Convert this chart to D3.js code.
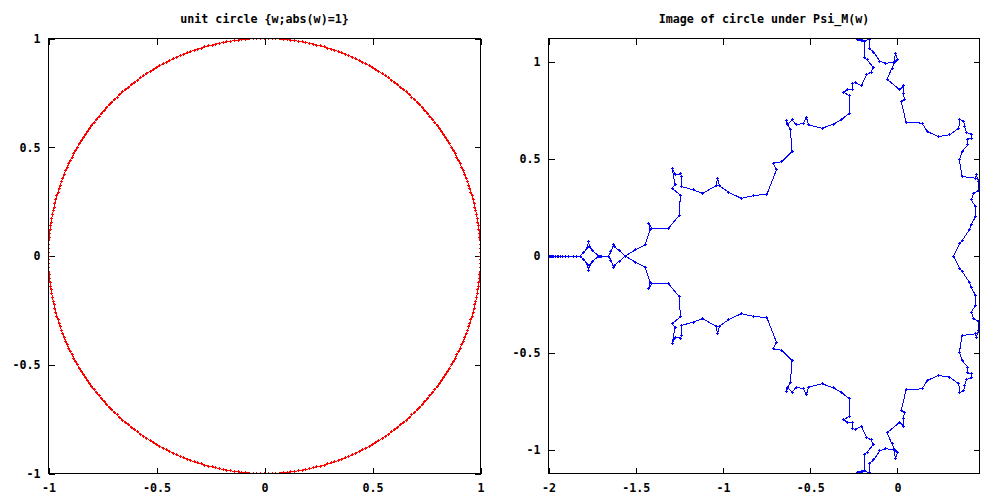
<!DOCTYPE html>
<html><head><meta charset="utf-8">
<script src="https://cdn.jsdelivr.net/npm/d3@7"></script>
<style>
html,body{margin:0;padding:0;background:#fff;}
svg text{font-family:"DejaVu Sans Mono",monospace;font-weight:bold;font-size:11.67px;fill:#000;}
</style></head><body>
<svg id="c" width="1000" height="500"></svg>
<script>
// ---- data ----
const leftTitle = "unit circle {w;abs(w)=1}";
const rightTitle = "Image of circle under Psi_M(w)";
const leftXTicks = [-1, -0.5, 0, 0.5, 1];
const leftYTicks = [-1, -0.5, 0, 0.5, 1];
const rightXTicks = [-2, -1.5, -1, -0.5, 0];
const rightYTicks = [-1, -0.5, 0, 0.5, 1];

// unit circle samples, one per degree
const circleX = [1,
1,.999,.999,.998,.996,.995,.993,.990,.988,.985,.982,.978,.974,.970,.966,.961,.956,.951,.946,.940,.934,.927,.921,.914,.906,.899,.891,.883,.875,.866,.857,.848,.839,.829,.819,.809,.799,.788,.777,.766,.755,.743,.731,.719,.707,.695,.682,.669,.656,.643,.629,.616,.602,.588,.574,.559,.545,.530,.515,.500,.485,.469,.454,.438,.423,.407,.391,.375,.358,.342,.326,.309,.292,.276,.259,.242,.225,.208,.191,.174,.156,.139,.122,.105,.087,.070,.052,.035,.017,
0,
-.017,-.035,-.052,-.070,-.087,-.105,-.122,-.139,-.156,-.174,-.191,-.208,-.225,-.242,-.259,-.276,-.292,-.309,-.326,-.342,-.358,-.375,-.391,-.407,-.423,-.438,-.454,-.469,-.485,-.500,-.515,-.530,-.545,-.559,-.574,-.588,-.602,-.616,-.629,-.643,-.656,-.669,-.682,-.695,-.707,-.719,-.731,-.743,-.755,-.766,-.777,-.788,-.799,-.809,-.819,-.829,-.839,-.848,-.857,-.866,-.875,-.883,-.891,-.899,-.906,-.914,-.921,-.927,-.934,-.940,-.946,-.951,-.956,-.961,-.966,-.970,-.974,-.978,-.982,-.985,-.988,-.990,-.993,-.995,-.996,-.998,-.999,-.999,-1,
-1,
-1,-.999,-.999,-.998,-.996,-.995,-.993,-.990,-.988,-.985,-.982,-.978,-.974,-.970,-.966,-.961,-.956,-.951,-.946,-.940,-.934,-.927,-.921,-.914,-.906,-.899,-.891,-.883,-.875,-.866,-.857,-.848,-.839,-.829,-.819,-.809,-.799,-.788,-.777,-.766,-.755,-.743,-.731,-.719,-.707,-.695,-.682,-.669,-.656,-.643,-.629,-.616,-.602,-.588,-.574,-.559,-.545,-.530,-.515,-.500,-.485,-.469,-.454,-.438,-.423,-.407,-.391,-.375,-.358,-.342,-.326,-.309,-.292,-.276,-.259,-.242,-.225,-.208,-.191,-.174,-.156,-.139,-.122,-.105,-.087,-.070,-.052,-.035,-.017,
0,
.017,.035,.052,.070,.087,.105,.122,.139,.156,.174,.191,.208,.225,.242,.259,.276,.292,.309,.326,.342,.358,.375,.391,.407,.423,.438,.454,.469,.485,.500,.515,.530,.545,.559,.574,.588,.602,.616,.629,.643,.656,.669,.682,.695,.707,.719,.731,.743,.755,.766,.777,.788,.799,.809,.819,.829,.839,.848,.857,.866,.875,.883,.891,.899,.906,.914,.921,.927,.934,.940,.946,.951,.956,.961,.966,.970,.974,.978,.982,.985,.988,.990,.993,.995,.996,.998,.999,.999,1];
const circleY = [0,
.017,.035,.052,.070,.087,.105,.122,.139,.156,.174,.191,.208,.225,.242,.259,.276,.292,.309,.326,.342,.358,.375,.391,.407,.423,.438,.454,.469,.485,.500,.515,.530,.545,.559,.574,.588,.602,.616,.629,.643,.656,.669,.682,.695,.707,.719,.731,.743,.755,.766,.777,.788,.799,.809,.819,.829,.839,.848,.857,.866,.875,.883,.891,.899,.906,.914,.921,.927,.934,.940,.946,.951,.956,.961,.966,.970,.974,.978,.982,.985,.988,.990,.993,.995,.996,.998,.999,.999,1,
1,
1,.999,.999,.998,.996,.995,.993,.990,.988,.985,.982,.978,.974,.970,.966,.961,.956,.951,.946,.940,.934,.927,.921,.914,.906,.899,.891,.883,.875,.866,.857,.848,.839,.829,.819,.809,.799,.788,.777,.766,.755,.743,.731,.719,.707,.695,.682,.669,.656,.643,.629,.616,.602,.588,.574,.559,.545,.530,.515,.500,.485,.469,.454,.438,.423,.407,.391,.375,.358,.342,.326,.309,.292,.276,.259,.242,.225,.208,.191,.174,.156,.139,.122,.105,.087,.070,.052,.035,.017,
0,
-.017,-.035,-.052,-.070,-.087,-.105,-.122,-.139,-.156,-.174,-.191,-.208,-.225,-.242,-.259,-.276,-.292,-.309,-.326,-.342,-.358,-.375,-.391,-.407,-.423,-.438,-.454,-.469,-.485,-.500,-.515,-.530,-.545,-.559,-.574,-.588,-.602,-.616,-.629,-.643,-.656,-.669,-.682,-.695,-.707,-.719,-.731,-.743,-.755,-.766,-.777,-.788,-.799,-.809,-.819,-.829,-.839,-.848,-.857,-.866,-.875,-.883,-.891,-.899,-.906,-.914,-.921,-.927,-.934,-.940,-.946,-.951,-.956,-.961,-.966,-.970,-.974,-.978,-.982,-.985,-.988,-.990,-.993,-.995,-.996,-.998,-.999,-.999,-1,
-1,
-1,-.999,-.999,-.998,-.996,-.995,-.993,-.990,-.988,-.985,-.982,-.978,-.974,-.970,-.966,-.961,-.956,-.951,-.946,-.940,-.934,-.927,-.921,-.914,-.906,-.899,-.891,-.883,-.875,-.866,-.857,-.848,-.839,-.829,-.819,-.809,-.799,-.788,-.777,-.766,-.755,-.743,-.731,-.719,-.707,-.695,-.682,-.669,-.656,-.643,-.629,-.616,-.602,-.588,-.574,-.559,-.545,-.530,-.515,-.500,-.485,-.469,-.454,-.438,-.423,-.407,-.391,-.375,-.358,-.342,-.326,-.309,-.292,-.276,-.259,-.242,-.225,-.208,-.191,-.174,-.156,-.139,-.122,-.105,-.087,-.070,-.052,-.035,-.017];

// image curve, upper half, from w=1 to the tip
const psiUpper = [[0.322,0],[0.357,0.065],[0.370,0.079],[0.414,0.138],[0.422,0.160],[0.447,0.203],[0.448,0.254],[0.422,0.289],[0.437,0.323],[0.466,0.337],[0.466,0.383],[0.452,0.418],[0.447,0.401],[0.370,0.409],[0.355,0.495],[0.370,0.538],[0.403,0.572],[0.403,0.602],[0.422,0.607],[0.422,0.627],[0.395,0.636],[0.384,0.666],[0.380,0.692],[0.357,0.705],[0.351,0.658],[0.299,0.624],[0.236,0.615],[0.170,0.641],[0.141,0.684],[0.049,0.689],[0.022,0.795],[0.041,0.804],[0.032,0.839],[0.036,0.876],[0.013,0.856],[-0.060,0.911],[-0.031,0.968],[-0.012,1.002],[0.001,1.010],[-0.012,1.041],[-0.022,0.996],[-0.069,0.993],[-0.102,1.004],[-0.136,1.050],[-0.159,1.067],[-0.159,1.113],[-0.201,1.111],[-0.218,1.121],[-0.227,1.113],[-0.190,1.102],[-0.190,1.024],[-0.174,1.010],[-0.140,0.973],[-0.151,0.947],[-0.178,0.933],[-0.207,0.876],[-0.241,0.893],[-0.255,0.890],[-0.260,0.859],[-0.286,0.859],[-0.308,0.842],[-0.274,0.825],[-0.274,0.736],[-0.318,0.705],[-0.366,0.679],[-0.432,0.658],[-0.509,0.675],[-0.522,0.713],[-0.538,0.684],[-0.580,0.675],[-0.604,0.701],[-0.633,0.675],[-0.637,0.697],[-0.614,0.649],[-0.604,0.538],[-0.662,0.486],[-0.713,0.478],[-0.694,0.443],[-0.748,0.318],[-0.825,0.311],[-0.895,0.297],[-0.968,0.328],[-1.021,0.362],[-1.031,0.401],[-1.040,0.361],[-1.117,0.323],[-1.169,0.340],[-1.235,0.357],[-1.235,0.409],[-1.245,0.423],[-1.274,0.418],[-1.292,0.452],[-1.274,0.366],[-1.292,0.349],[-1.245,0.314],[-1.249,0.211],[-1.312,0.143],[-1.407,0.143],[-1.427,0.169],[-1.417,0.138],[-1.446,0.057],[-1.503,0.031],[-1.560,0],[-1.593,0.026],[-1.623,0.048],[-1.627,0.059],[-1.642,0.022],[-1.656,0],[-1.694,0],[-1.700,0],[-1.708,0],[-1.713,0],[-1.745,0.026],[-1.765,0.048],[-1.771,0.074],[-1.776,0.045],[-1.799,0.017],[-1.818,0],[-1.837,0],[-1.857,0],[-1.885,0],[-1.904,0],[-1.917,0],[-1.933,0],[-1.943,0],[-1.950,0],[-1.960,0],[-1.971,0],[-1.977,0],[-1.981,0],[-1.986,0],[-1.990,0],[-1.994,0],[-1.998,0]];

// image curve, lower half, from w=1 to the tip
const psiLower = [[0.322,0],[0.357,-0.065],[0.370,-0.079],[0.414,-0.138],[0.422,-0.160],[0.447,-0.203],[0.448,-0.254],[0.422,-0.289],[0.437,-0.323],[0.466,-0.337],[0.466,-0.383],[0.452,-0.418],[0.447,-0.401],[0.370,-0.409],[0.355,-0.495],[0.370,-0.538],[0.403,-0.572],[0.403,-0.602],[0.422,-0.607],[0.422,-0.627],[0.395,-0.636],[0.384,-0.666],[0.380,-0.692],[0.357,-0.705],[0.351,-0.658],[0.299,-0.624],[0.236,-0.615],[0.170,-0.641],[0.141,-0.684],[0.049,-0.689],[0.022,-0.795],[0.041,-0.804],[0.032,-0.839],[0.036,-0.876],[0.013,-0.856],[-0.060,-0.911],[-0.031,-0.968],[-0.012,-1.002],[0.001,-1.010],[-0.012,-1.041],[-0.022,-0.996],[-0.069,-0.993],[-0.102,-1.004],[-0.136,-1.050],[-0.159,-1.067],[-0.159,-1.113],[-0.201,-1.111],[-0.218,-1.121],[-0.227,-1.113],[-0.190,-1.102],[-0.190,-1.024],[-0.174,-1.010],[-0.140,-0.973],[-0.151,-0.947],[-0.178,-0.933],[-0.207,-0.876],[-0.241,-0.893],[-0.255,-0.890],[-0.260,-0.859],[-0.286,-0.859],[-0.308,-0.842],[-0.274,-0.825],[-0.274,-0.736],[-0.318,-0.705],[-0.366,-0.679],[-0.432,-0.658],[-0.509,-0.675],[-0.522,-0.713],[-0.538,-0.684],[-0.580,-0.675],[-0.604,-0.701],[-0.633,-0.675],[-0.637,-0.697],[-0.614,-0.649],[-0.604,-0.538],[-0.662,-0.486],[-0.713,-0.478],[-0.694,-0.443],[-0.748,-0.318],[-0.825,-0.311],[-0.895,-0.297],[-0.968,-0.328],[-1.021,-0.362],[-1.031,-0.401],[-1.040,-0.361],[-1.117,-0.323],[-1.169,-0.340],[-1.235,-0.357],[-1.235,-0.409],[-1.245,-0.423],[-1.274,-0.418],[-1.292,-0.452],[-1.274,-0.366],[-1.292,-0.349],[-1.245,-0.314],[-1.249,-0.211],[-1.312,-0.143],[-1.407,-0.143],[-1.427,-0.169],[-1.417,-0.138],[-1.446,-0.057],[-1.503,-0.031],[-1.560,0],[-1.593,-0.026],[-1.623,-0.048],[-1.627,-0.059],[-1.642,-0.022],[-1.656,0],[-1.694,0],[-1.700,0],[-1.708,0],[-1.713,0],[-1.745,-0.026],[-1.765,-0.048],[-1.771,-0.074],[-1.776,-0.045],[-1.799,-0.017],[-1.818,0],[-1.837,0],[-1.857,0],[-1.885,0],[-1.904,0],[-1.917,0],[-1.933,0],[-1.943,0],[-1.950,0],[-1.960,0],[-1.971,0],[-1.977,0],[-1.981,0],[-1.986,0],[-1.990,0],[-1.994,0],[-1.998,0]];

// ---- drawing ----
const svg = d3.select("#c");
const fmt = d => String(d);

function panel(opt) {
  const x = d3.scaleLinear().domain(opt.xd).range([opt.x0, opt.x1]);
  const y = d3.scaleLinear().domain(opt.yd).range([opt.y1, opt.y0]);
  const g = svg.append("g");
  const T = 6;
  const ax = (a, tr) => {
    const sel = g.append("g").attr("transform", tr).call(a);
    sel.select(".domain").remove();
    sel.selectAll("line").attr("stroke", "#000").attr("shape-rendering", "crispEdges");
    sel.selectAll("text").attr("font-family", null).attr("font-size", null).attr("fill", "#000");
    return sel;
  };
  ax(d3.axisBottom(x).tickValues(opt.xt).tickFormat(fmt).tickSize(-T).tickPadding(10), `translate(0,${opt.y1})`);
  ax(d3.axisTop(x).tickValues(opt.xt).tickFormat("").tickSize(-T), `translate(0,${opt.y0})`);
  ax(d3.axisLeft(y).tickValues(opt.yt).tickFormat(fmt).tickSize(-T).tickPadding(8), `translate(${opt.x0},0)`);
  ax(d3.axisRight(y).tickValues(opt.yt).tickFormat("").tickSize(-T), `translate(${opt.x1},0)`);

  const id = "clip" + opt.id;
  svg.append("clipPath").attr("id", id).append("rect")
    .attr("x", opt.x0).attr("y", opt.y0 - 0.5).attr("width", opt.x1 - opt.x0 + 0.5).attr("height", opt.y1 - opt.y0 + 0.5);
  const dg = g.append("g").attr("clip-path", `url(#${id})`);
  const line = d3.line().x(d => x(d[0])).y(d => y(d[1]));
  opt.series.forEach(s => {
    dg.append("path").attr("d", line(s.pts) + (s.closed ? "Z" : ""))
      .attr("fill", "none").attr("stroke", s.color).attr("stroke-width", 1)
      .attr("shape-rendering", "crispEdges");
    dg.append("path").attr("d", s.pts.map(d => {
      const cx = Math.floor(x(d[0])), cy = Math.floor(y(d[1]));
      return `M${cx - 1},${cy + 0.5}h3M${cx + 0.5},${cy - 1}v3`;
    }).join("")).attr("fill", "none").attr("stroke", s.color).attr("stroke-width", 1)
      .attr("shape-rendering", "crispEdges");
  });

  g.append("rect").attr("x", opt.x0).attr("y", opt.y0)
    .attr("width", opt.x1 - opt.x0).attr("height", opt.y1 - opt.y0)
    .attr("fill", "none").attr("stroke", "#000").attr("shape-rendering", "crispEdges");
  g.append("text").attr("x", (opt.x0 + opt.x1) / 2).attr("y", 23)
    .attr("text-anchor", "middle").text(opt.title);
}

const circlePts = circleX.map((v, i) => [v, circleY[i]]);

panel({id: "L", x0: 48.5, x1: 480.5, y0: 38.5, y1: 473.5, xd: [-1, 1], yd: [-1, 1],
  xt: leftXTicks, yt: leftYTicks, title: leftTitle,
  series: [{pts: circlePts, color: "#ff0000", closed: true}]});

panel({id: "R", x0: 548.5, x1: 979.5, y0: 38.5, y1: 473.5, xd: [-2, 0.47], yd: [-1.12, 1.12],
  xt: rightXTicks, yt: rightYTicks, title: rightTitle,
  series: [{pts: psiUpper, color: "#0000ff"}, {pts: psiLower, color: "#0000ff"}]});
</script>
</body></html>
